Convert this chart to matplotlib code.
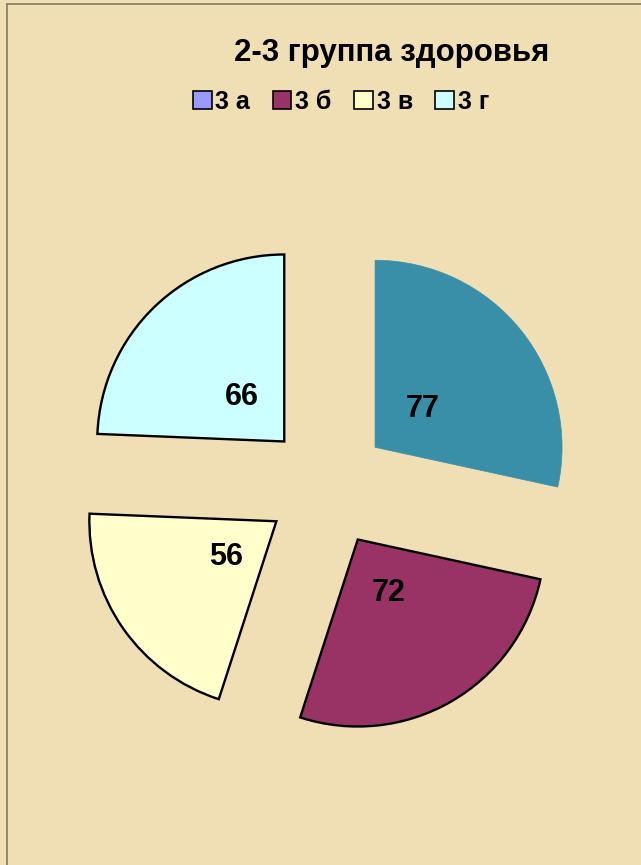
import matplotlib
matplotlib.use("Agg")
import matplotlib.pyplot as plt
from matplotlib.patches import Patch
from matplotlib.lines import Line2D

plt.rcParams['font.family'] = ['Liberation Sans', 'DejaVu Sans']

title = "2-3 группа здоровья"
categories = ["3 а", "3 б", "3 в", "3 г"]
values = [77, 72, 56, 66]
slice_colors = ["#3A8FA8", "#993366", "#FFFFCC", "#CCFFFF"]
legend_colors = ["#9999FF", "#993366", "#FFFFCC", "#CCFFFF"]
edge_colors = ["none", "black", "black", "black"]

W, H = 641, 865
bg = "#F0DFB5"
fig = plt.figure(figsize=(W / 100, H / 100), dpi=100, facecolor=bg)

# frame lines (top and left)
fig.add_artist(Line2D([7 / W, 7 / W], [0, 1 - 4 / H], transform=fig.transFigure,
                      color="#8A8268", lw=1.3))
fig.add_artist(Line2D([7 / W, 1], [1 - 4 / H, 1 - 4 / H], transform=fig.transFigure,
                      color="#8A8268", lw=1.3))

cx, cy, R, L = 327, 486, 187, 1.5
ax = fig.add_axes([(cx - R * L) / W, (H - cy - R * L) / H, 2 * R * L / W, 2 * R * L / H])
ax.set_facecolor("none")

total = sum(values)
wedges, texts, autotexts = ax.pie(
    values, colors=slice_colors, startangle=90, counterclock=False,
    explode=[0.33] * len(values), radius=1.0,
    autopct=lambda p: f"{round(p * total / 100)}", pctdistance=0.33,
    textprops=dict(fontsize=22, fontweight="bold", color="black"),
)
for w, ec in zip(wedges, edge_colors):
    if ec == "none":
        w.set_edgecolor(w.get_facecolor())
        w.set_linewidth(0.5)
    else:
        w.set_edgecolor(ec)
        w.set_linewidth(1.7)
ax.set_xlim(-L, L)
ax.set_ylim(-L, L)
ax.set_aspect("auto")
ax.axis("off")

fig.text(392 / W, 1 - 53 / H, title, ha="center", va="center",
         fontsize=22.5, fontweight="bold")

handles = [Patch(facecolor=c, edgecolor="black", linewidth=1.2) for c in legend_colors]
fig.legend(handles, categories, loc="center", bbox_to_anchor=(341 / W, 1 - 102 / H),
           ncol=4, frameon=False, prop=dict(size=18, weight="bold"),
           handlelength=0.75, handleheight=0.75, handletextpad=0.15,
           columnspacing=0.9, borderpad=0)

fig.savefig("out.png", dpi=100, facecolor=bg)
